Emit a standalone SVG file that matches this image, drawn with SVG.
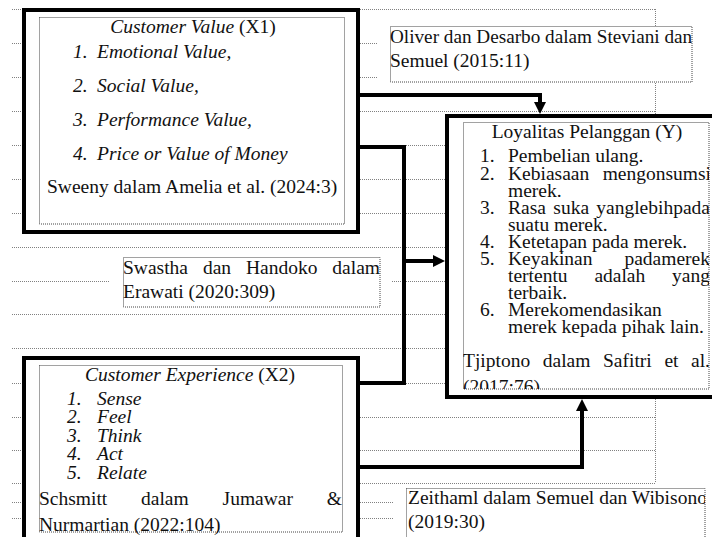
<svg xmlns="http://www.w3.org/2000/svg" width="712" height="537" viewBox="0 0 712 537">
<style>
.t{font-family:"Liberation Serif","Times New Roman",serif;font-size:19.5px;fill:#111}
.i{font-style:italic}
.s{font-size:19.2px}
.rule{stroke:#808080;stroke-width:1;stroke-dasharray:1 1;fill:none}
.outer{fill:#fff;stroke:#000;stroke-width:4}
.inner{fill:none;stroke:#444;stroke-width:1;stroke-dasharray:1 1}
.mask{fill:#fff;stroke:none}
.conn{fill:none;stroke:#000;stroke-width:4;stroke-linejoin:miter}
</style>
<defs>
<marker id="arrow" viewBox="0 0 12 12" refX="1" refY="6" markerWidth="12" markerHeight="12" markerUnits="userSpaceOnUse" orient="auto"><path d="M0,0 L12,6 L0,12 z" fill="#000"/></marker>
<clipPath id="clip-y"><rect x="463" y="122" width="246" height="267"/></clipPath>
<clipPath id="clip-oliver"><rect x="390" y="26" width="302" height="56"/></clipPath>
<clipPath id="clip-zeithaml"><rect x="406" y="488" width="299" height="49"/></clipPath>
</defs>
<rect width="712" height="537" fill="#fff"/>
<g id="background-rules" class="rule">
<path d="M12,9.5H655M12,43.5H655M12,77.5H655M12,111.5H655M12,145.5H655M12,179.5H655M12,213.5H655M12,247.5H655M12,281.5H655M12,314.5H655M12,348.5H655M12,383.5H655M12,417.5H655M12,450.5H655M12,483.5H655M12,502.5H655M12,518.5H655M655.5,9V483"/>
</g>
<g id="node-customer-value">
<rect class="outer" x="24" y="10" width="334" height="222"/>
<rect class="inner" x="39.5" y="17.5" width="305" height="206.5"/>
<text class="t" x="193" y="33" text-anchor="middle"><tspan class="i">Customer Value</tspan> (X1)</text>
<text class="t i" x="73" y="58">1.</text><text class="t i" x="97" y="58">Emotional Value,</text>
<text class="t i" x="73" y="92">2.</text><text class="t i" x="97" y="92">Social Value,</text>
<text class="t i" x="73" y="126">3.</text><text class="t i" x="97" y="126">Performance Value,</text>
<text class="t i" x="73" y="160">4.</text><text class="t i" x="97" y="160">Price or Value of Money</text>
<text class="t" x="47" y="193">Sweeny dalam Amelia et al. (2024:3)</text>
</g>
<g id="node-customer-experience">
<rect class="outer" x="24" y="358" width="334" height="200"/>
<rect class="inner" x="39.5" y="365.5" width="303" height="166.5"/>
<text class="t" x="190" y="381" text-anchor="middle"><tspan class="i">Customer Experience</tspan> (X2)</text>
<text class="t i" x="67" y="405">1.</text><text class="t i" x="97" y="405">Sense</text>
<text class="t i" x="67" y="423">2.</text><text class="t i" x="97" y="423">Feel</text>
<text class="t i" x="67" y="442">3.</text><text class="t i" x="97" y="442">Think</text>
<text class="t i" x="67" y="460">4.</text><text class="t i" x="97" y="460">Act</text>
<text class="t i" x="67" y="479">5.</text><text class="t i" x="97" y="479">Relate</text>
<text class="t" y="505"><tspan x="39">Schsmitt</tspan><tspan x="141">dalam</tspan><tspan x="222.6">Jumawar</tspan></text>
<text class="t" x="342" y="505" text-anchor="end">&amp;</text>
<text class="t" x="39" y="531">Nurmartian (2022:104)</text>
</g>
<g id="node-loyalitas">
<rect class="outer" x="447" y="116" width="280" height="281"/>
<rect class="inner" x="463.5" y="122.5" width="245.5" height="266.5"/>
<g clip-path="url(#clip-y)">
<text class="t" x="587" y="138" text-anchor="middle">Loyalitas Pelanggan (Y)</text>
<text class="t" x="480" y="162">1.</text><text class="t" x="508" y="162">Pembelian ulang.</text>
<text class="t" x="480" y="180">2.</text><text class="t" x="508" y="180">Kebiasaan</text><text class="t" x="711" y="180" text-anchor="end">mengonsumsi</text>
<text class="t" x="508" y="197">merek.</text>
<text class="t" x="480" y="214">3.</text><text class="t" y="214"><tspan x="508">Rasa</tspan><tspan x="553.3">suka</tspan></text><text class="t" x="710" y="214" text-anchor="end">yanglebihpada</text>
<text class="t" x="508" y="231">suatu merek.</text>
<text class="t" x="480" y="248">4.</text><text class="t" x="508" y="248">Ketetapan pada merek.</text>
<text class="t" x="480" y="265">5.</text><text class="t" x="508" y="265">Keyakinan</text><text class="t" x="710" y="265" text-anchor="end">padamerek</text>
<text class="t" y="282"><tspan x="508">tertentu</tspan><tspan x="594.4">adalah</tspan></text><text class="t" x="710" y="282" text-anchor="end">yang</text>
<text class="t" x="508" y="299">terbaik.</text>
<text class="t" x="480" y="316">6.</text><text class="t" x="508" y="316">Merekomendasikan</text>
<text class="t" x="508" y="333">merek kepada pihak lain.</text>
<text class="t" y="367"><tspan x="463">Tjiptono</tspan><tspan x="542.8">dalam</tspan><tspan x="603">Safitri</tspan><tspan x="664.4">et</tspan></text><text class="t" x="710" y="367" text-anchor="end">al.</text>
<text class="t" x="463" y="393">(2017:76)</text>
</g>
</g>
<g id="ref-oliver">
<rect class="mask" x="378" y="26" width="330" height="57"/>
<rect class="inner" x="390.5" y="26.5" width="301.5" height="55.5"/>
<g clip-path="url(#clip-oliver)">
<text class="t s" x="390" y="43">Oliver dan Desarbo dalam Steviani dan</text>
<text class="t" x="390" y="67">Semuel (2015:11)</text>
</g>
</g>
<g id="ref-swastha">
<rect class="mask" x="110" y="252" width="282" height="59"/>
<rect class="inner" x="123.5" y="257.5" width="256.5" height="49.5"/>
<text class="t" y="274"><tspan x="123">Swastha</tspan><tspan x="202.9">dan</tspan><tspan x="246">Handoko</tspan></text><text class="t" x="380" y="274" text-anchor="end">dalam</text>
<text class="t" x="123" y="298">Erawati (2020:309)</text>
</g>
<g id="ref-zeithaml">
<rect class="mask" x="393" y="486" width="319" height="51"/>
<rect class="inner" x="406.5" y="488.5" width="298.5" height="60"/>
<g clip-path="url(#clip-zeithaml)">
<text class="t" x="408" y="504">Zeithaml dalam Semuel dan Wibisono</text>
<text class="t" x="408" y="528">(2019:30)</text>
</g>
</g>
<g id="connectors">
<path class="conn" d="M358,95H540V103" marker-end="url(#arrow)"/>
<path class="conn" d="M358,147H404V383H358"/>
<path class="conn" d="M404,261H434" marker-end="url(#arrow)"/>
<path class="conn" d="M358,467H582V410" marker-end="url(#arrow)"/>
</g>
</svg>
